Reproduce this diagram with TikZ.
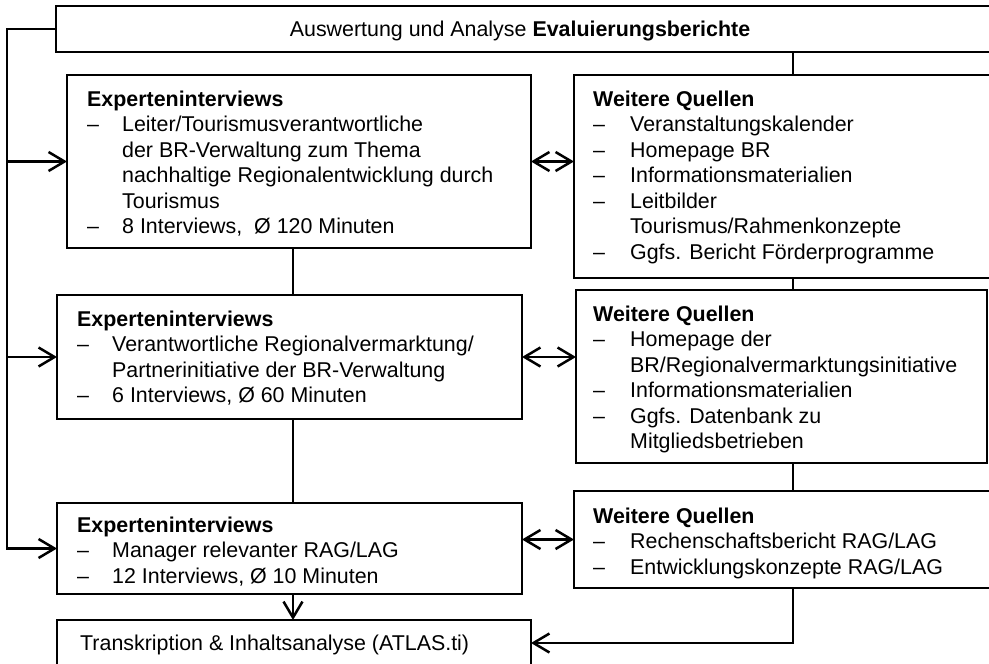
\documentclass[tikz,border=0pt]{standalone}
\usepackage{fontspec}
\setmainfont{Liberation Sans}
\usetikzlibrary{arrows.meta}
\begin{document}
\begin{tikzpicture}[x=1pt,y=-1pt,
  box/.style={draw=black, line width=1.2pt, rectangle, inner sep=0pt, outer sep=0pt, anchor=north west},
  txt/.style={inner sep=0pt, anchor=base west, font=\fontsize{21.4}{25.5}\selectfont},
  link/.style={line width=2.5pt},
  arr/.style={link, -{Straight Barb[length=16pt,width=19pt]}},
  dbl/.style={link, {Straight Barb[length=16pt,width=19pt]}-{Straight Barb[length=16pt,width=19pt]}},
]
\useasboundingbox (0,0) rectangle (989,664);
\clip (0,0) rectangle (989,664);

% boxes
\node[box, minimum width=944pt, minimum height=46pt] (top) at (56,6) {};
\node[box, minimum width=464pt, minimum height=173pt] (E1) at (67,75) {};
\node[box, minimum width=426pt, minimum height=203pt] (W1) at (574,75) {};
\node[box, minimum width=465pt, minimum height=124pt] (E2) at (57,295) {};
\node[box, minimum width=411pt, minimum height=173pt] (W2) at (576,290) {};
\node[box, minimum width=465pt, minimum height=91pt] (E3) at (57,503) {};
\node[box, minimum width=426pt, minimum height=97pt] (W3) at (574,491) {};
\node[box, minimum width=474pt, minimum height=46pt] (B) at (57,620) {};

% texts
\node[txt, anchor=base] (topt) at (520,36) {Auswertung und Analyse \textbf{Evaluierungsberichte}};

\node[txt] (E1t) at (87,106) {\begin{tabular}[t]{@{}p{35pt}@{}l@{}}
\multicolumn{2}{@{}l@{}}{\textbf{Experteninterviews}}\\
--& Leiter/Tourismusverantwortliche\\
  & der BR-Verwaltung zum Thema\\
  & nachhaltige Regionalentwicklung durch\\
  & Tourismus\\
--& 8 Interviews,\ \ Ø 120 Minuten
\end{tabular}};

\node[txt] (W1t) at (593,106) {\begin{tabular}[t]{@{}p{37pt}@{}l@{}}
\multicolumn{2}{@{}l@{}}{\textbf{Weitere Quellen}}\\
--& Veranstaltungskalender\\
--& Homepage BR\\
--& Informationsmaterialien\\
--& Leitbilder\\
  & Tourismus/Rahmenkonzepte\\
--& Ggfs. Bericht Förderprogramme
\end{tabular}};

\node[txt] (E2t) at (77,326) {\begin{tabular}[t]{@{}p{35pt}@{}l@{}}
\multicolumn{2}{@{}l@{}}{\textbf{Experteninterviews}}\\
--& Verantwortliche Regionalvermarktung/\\
  & Partnerinitiative der BR-Verwaltung\\
--& 6 Interviews, Ø 60 Minuten
\end{tabular}};

\node[txt] (W2t) at (593,321) {\begin{tabular}[t]{@{}p{37pt}@{}l@{}}
\multicolumn{2}{@{}l@{}}{\textbf{Weitere Quellen}}\\
--& Homepage der\\
  & BR/Regionalvermarktungsinitiative\\
--& Informationsmaterialien\\
--& Ggfs. Datenbank zu\\
  & Mitgliedsbetrieben
\end{tabular}};

\node[txt] (E3t) at (77,532) {\begin{tabular}[t]{@{}p{35pt}@{}l@{}}
\multicolumn{2}{@{}l@{}}{\textbf{Experteninterviews}}\\
--& Manager relevanter RAG/LAG\\
--& 12 Interviews, Ø 10 Minuten
\end{tabular}};

\node[txt] (W3t) at (593,523) {\begin{tabular}[t]{@{}p{37pt}@{}l@{}}
\multicolumn{2}{@{}l@{}}{\textbf{Weitere Quellen}}\\
--& Rechenschaftsbericht RAG/LAG\\
--& Entwicklungskonzepte RAG/LAG
\end{tabular}};

\node[txt] (Bt) at (80,650) {Transkription \& Inhaltsanalyse (ATLAS.ti)};

% guide positions for the connectors
\coordinate (r1) at (7,29);
\coordinate (cl) at (293,0);
\coordinate (cr) at (793,0);

% feedback rail on the left
\draw[arr] (top.west) -- (r1) |- (E3.west);
\draw[arr] (E1.west -| r1) -- (E1.west);
\draw[arr] (E2.west -| r1) -- (E2.west);

% left column
\draw[link] (E1.south -| cl) -- (E2.north -| cl);
\draw[link] (E2.south -| cl) -- (E3.north -| cl);
\draw[arr] (E3.south -| cl) -- (B.north -| cl);

% right column
\draw[link] (top.south -| cr) -- (W1.north -| cr);
\draw[link] (W1.south -| cr) -- (W2.north -| cr);
\draw[link] (W2.south -| cr) -- (W3.north -| cr);
\draw[arr] (W3.south -| cr) |- (B.east);

% exchange between interviews and sources
\draw[dbl] (E1.east) -- (E1.east -| W1.west);
\draw[dbl] (E2.east) -- (E2.east -| W2.west);
\draw[dbl] (W3.west -| E3.east) -- (W3.west);
\end{tikzpicture}
\end{document}
